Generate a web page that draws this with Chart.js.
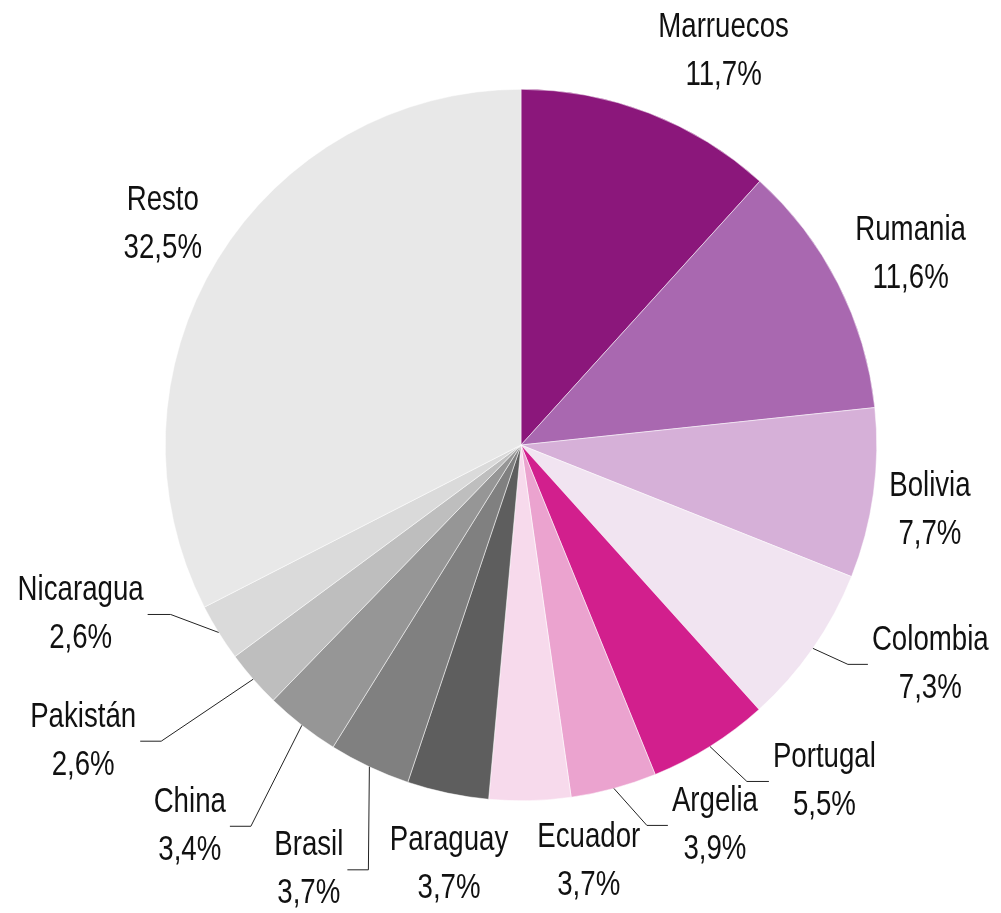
<!DOCTYPE html>
<html>
<head>
<meta charset="utf-8">
<script src="https://cdn.jsdelivr.net/npm/chart.js@4/dist/chart.umd.min.js"></script>
<style>
  html, body { margin: 0; padding: 0; background: #fff; }
  #wrap { width: 1001px; height: 913px; }
</style>
</head>
<body>
<div id="wrap"><canvas id="pie" width="1001" height="913"></canvas></div>
<script>
const countries = ['Marruecos', 'Rumania', 'Bolivia', 'Colombia', 'Portugal', 'Argelia', 'Ecuador',
  'Paraguay', 'Brasil', 'China', 'Pakistán', 'Nicaragua', 'Resto'];
const shares = [11.7, 11.6, 7.7, 7.3, 5.5, 3.9, 3.7, 3.7, 3.7, 3.4, 2.6, 2.6, 32.5];
const sliceColors = ['#8b177b', '#a968b0', '#d6b0d8', '#f1e4f1', '#d21f8d', '#eba3cf', '#f7daec',
  '#5e5e5e', '#808080', '#969696', '#bebebe', '#dadada', '#e8e8e8'];

// label placement: free labels sit on the mid-angle at radius*r, nudged by dx/dy;
// leader labels get an elbow (ex, ey) from the rim point and a horizontal tail
const labelLayout = [
  { r: 1.2, dx: 49, dy: 5 },
  { r: 1.2, dx: 9, dy: 3 },
  { r: 1.2, dx: -14, dy: 7 },
  { ex: 35, ey: 16, tail: 20 },
  { ex: 37, ey: 35, tail: 22 },
  { ex: 33, ey: 37, tail: 21 },
  { r: 1.2, dx: 57, dy: -10 },
  { r: 1.2, dx: 16, dy: 2 },
  { ex: -1, ey: 103, tail: -21 },
  { ex: -51, ey: 101, tail: -21 },
  { ex: -92, ey: 62, tail: -21 },
  { ex: -48, ey: -18, tail: -23 },
  { r: 1.2, dx: 6, dy: 2 },
];

// no condensed face is installed, so squeeze a regular one horizontally
const FONT = '35px "Liberation Sans", Arial, sans-serif';
const SQUEEZE = 0.79;
const LINE_H = 48;
const fmt = (v) => v.toFixed(1).replace('.', ',') + '%';

const drawNarrow = (ctx, text, x, y) => {
  ctx.save();
  ctx.translate(x, y);
  ctx.scale(SQUEEZE, 1);
  ctx.fillText(text, 0, 0);
  ctx.restore();
};

const pieLabels = {
  id: 'pieLabels',
  afterDatasetsDraw(chart) {
    const ctx = chart.ctx;
    const meta = chart.getDatasetMeta(0);
    ctx.save();
    ctx.font = FONT;
    ctx.fillStyle = '#111';
    ctx.strokeStyle = '#222';
    ctx.lineWidth = 1;
    ctx.textAlign = 'center';
    ctx.textBaseline = 'middle';
    meta.data.forEach((arc, i) => {
      const { x, y, startAngle, endAngle, outerRadius } =
        arc.getProps(['x', 'y', 'startAngle', 'endAngle', 'outerRadius'], true);
      const mid = (startAngle + endAngle) / 2;
      const lines = [countries[i], fmt(shares[i])];
      const lay = labelLayout[i];
      let cx, cy;
      if (lay.tail === undefined) {
        cx = x + Math.cos(mid) * outerRadius * lay.r + lay.dx;
        cy = y + Math.sin(mid) * outerRadius * lay.r + lay.dy;
      } else {
        const sx = x + Math.cos(mid) * outerRadius;
        const sy = y + Math.sin(mid) * outerRadius;
        const bx = sx + lay.ex;
        const by = sy + lay.ey;
        const tx = bx + lay.tail;
        ctx.beginPath();
        ctx.moveTo(sx, sy);
        ctx.lineTo(bx, by);
        ctx.lineTo(tx, by);
        ctx.stroke();
        const w = Math.max(...lines.map((t) => ctx.measureText(t).width)) * SQUEEZE;
        cx = tx + Math.sign(lay.tail) * (4 + w / 2);
        cy = by;
      }
      drawNarrow(ctx, lines[0], cx, cy - LINE_H / 2);
      drawNarrow(ctx, lines[1], cx, cy + LINE_H / 2);
    });
    ctx.restore();
  },
};

new Chart(document.getElementById('pie'), {
  type: 'pie',
  data: {
    labels: countries,
    datasets: [{
      data: shares,
      backgroundColor: sliceColors,
      borderColor: '#ffffff',
      borderWidth: 0.5,
    }],
  },
  options: {
    responsive: false,
    animation: false,
    layout: { padding: { top: 89, bottom: 112, left: 165, right: 124 } },
    plugins: {
      legend: { display: false },
      tooltip: { enabled: false },
    },
  },
  plugins: [pieLabels],
});
</script>
</body>
</html>
